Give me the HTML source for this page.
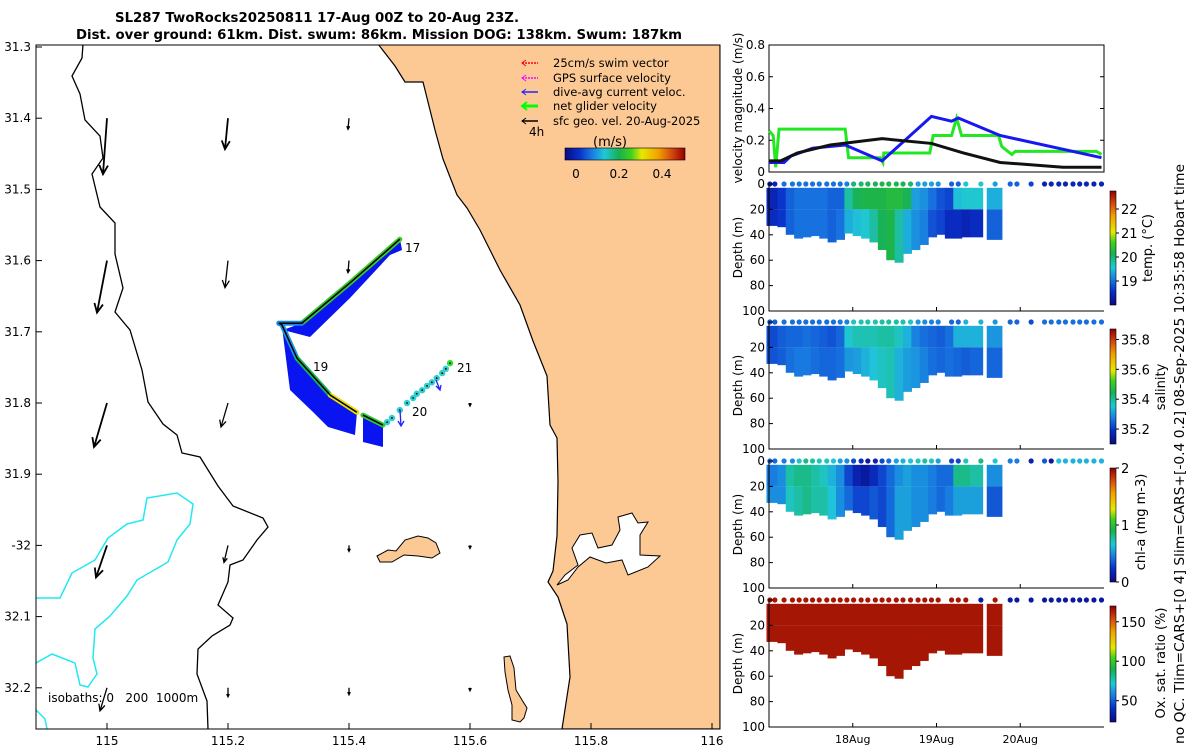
<!DOCTYPE html>
<html><head><meta charset="utf-8"><style>
html,body{margin:0;padding:0;background:#fff;}
svg{display:block;font-family:"DejaVu Sans","Liberation Sans",sans-serif;}
</style></head><body>
<svg id="fig" width="1200" height="750" viewBox="0 0 1200 750" xmlns="http://www.w3.org/2000/svg">
<defs>
<linearGradient id="jetH" x1="0" y1="0" x2="1" y2="0">
<stop offset="0" stop-color="#0a0a80"/><stop offset="0.12" stop-color="#0a30c8"/><stop offset="0.22" stop-color="#1878e0"/><stop offset="0.33" stop-color="#20c8d8"/><stop offset="0.45" stop-color="#18b050"/><stop offset="0.55" stop-color="#40d020"/><stop offset="0.64" stop-color="#e8e800"/><stop offset="0.78" stop-color="#f0a000"/><stop offset="0.9" stop-color="#d04010"/><stop offset="1" stop-color="#900000"/>
</linearGradient>
<linearGradient id="jetV" x1="0" y1="1" x2="0" y2="0">
<stop offset="0" stop-color="#0a0a80"/><stop offset="0.12" stop-color="#0a30c8"/><stop offset="0.22" stop-color="#1878e0"/><stop offset="0.33" stop-color="#20c8d8"/><stop offset="0.45" stop-color="#18b050"/><stop offset="0.55" stop-color="#40d020"/><stop offset="0.64" stop-color="#e8e800"/><stop offset="0.78" stop-color="#f0a000"/><stop offset="0.9" stop-color="#d04010"/><stop offset="1" stop-color="#900000"/>
</linearGradient>
<clipPath id="mapClip"><rect x="36" y="45" width="684" height="684"/></clipPath>
</defs>

<text x="115" y="22" font-size="13" font-weight="bold" textLength="404" lengthAdjust="spacingAndGlyphs">SL287 TwoRocks20250811 17-Aug 00Z to 20-Aug 23Z.</text>
<text x="76" y="39" font-size="13" font-weight="bold" textLength="606" lengthAdjust="spacingAndGlyphs">Dist. over ground: 61km. Dist. swum: 86km. Mission DOG: 138km. Swum: 187km</text>

<g id="map" clip-path="url(#mapClip)">
<polygon fill="#fcc995" stroke="#000" stroke-width="1.2" points="378,44 395,66 405,82 423,82 427,98 435,130 443,159 457,195 467,208 480,230 500,270 520,305 533,341 547,376 550,425 557,438 558,482 557,536 553,571 548,582 558,597 567,624 570,677 562,729 720,729 720,44"/>
<polygon fill="#fff" stroke="#000" stroke-width="1" points="557,585 565,575 578,565 572,548 580,535 592,533 598,548 612,545 620,530 618,517 632,513 638,523 648,522 640,535 640,555 660,556 648,567 628,575 622,560 606,563 590,557 578,567 568,580"/>
<polygon fill="#fcc995" stroke="#000" stroke-width="1" points="377,556 388,550 396,551 405,540 418,536 428,538 436,543 440,553 432,558 418,556 404,555 392,562 380,562"/>
<polygon fill="#fcc995" stroke="#000" stroke-width="1" points="504,657 510,656 514,668 516,690 522,700 527,708 524,718 520,722 512,720 512,705 508,690 505,672"/>
<polyline fill="none" stroke="#000" stroke-width="1.3" points="83,44 82,58 72,76 80,94 85,120 100,136 103,158 92,174 100,207 115,223 115,254 123,288 115,312 130,330 142,370 148,402 163,424 177,435 182,453 200,457 218,486 233,506 263,518 268,527 257,540 243,560 230,565 228,582 218,605 233,618 230,625 212,636 198,649 197,674 207,701 208,729"/>
<polyline fill="none" stroke="#22e8f0" stroke-width="1.5" points="36,598 60,598 72,573 95,560 108,538 127,524 143,520 147,498 177,493 193,504 190,524 177,540 168,562 137,580 127,596 110,616 95,629 93,658 97,674 88,687 80,685 75,663 52,654 36,663"/>
<polyline fill="none" stroke="#22e8f0" stroke-width="1.5" points="36,710 45,719 47,729"/>
<g id="vecs"></g>
<g fill="#0a14f0">
<polygon points="400,239 350,283 302,323 283,330 310,337 350,298 390,255 402,250"/>
<polygon points="282,327 297,358 330,395 357,412 355,435 328,427 313,412 290,390"/>
<polygon points="363,415 383,425 383,447 363,442"/>
</g>
<g id="track"></g>
<text x="405" y="252" font-size="12">17</text>
<text x="313" y="371" font-size="12">19</text>
<text x="412" y="416" font-size="12">20</text>
<text x="457" y="372" font-size="12">21</text>
<text x="48" y="702" font-size="12" style="white-space:pre" xml:space="preserve">isobaths: 0   200  1000m</text>
</g>
<rect x="36" y="45" width="684" height="684" fill="none" stroke="#000" stroke-width="1"/>
<g id="mapTicks" font-size="12"></g>

<g font-size="11.5">
<g><line x1="522" y1="63" x2="538" y2="63" stroke="#f00" stroke-width="1.5" stroke-dasharray="2 1"/><path d="M526,60 L522,63 L526,66" fill="none" stroke="#f00"/><text x="553" y="67">25cm/s swim vector</text></g>
<g><line x1="522" y1="78" x2="538" y2="78" stroke="#f0f" stroke-width="1.5" stroke-dasharray="2 1"/><path d="M526,75 L522,78 L526,81" fill="none" stroke="#f0f"/><text x="553" y="82">GPS surface velocity</text></g>
<g><line x1="522" y1="92" x2="538" y2="92" stroke="#22f" stroke-width="1.5"/><path d="M526,89 L522,92 L526,95" fill="none" stroke="#22f"/><text x="553" y="96">dive-avg current veloc.</text></g>
<g><line x1="522" y1="106" x2="538" y2="106" stroke="#0f0" stroke-width="3"/><path d="M527,102 L522,106 L527,110" fill="none" stroke="#0f0" stroke-width="2"/><text x="553" y="110">net glider velocity</text></g>
<g><line x1="522" y1="121" x2="538" y2="121" stroke="#000" stroke-width="1.5"/><path d="M526,118 L522,121 L526,124" fill="none" stroke="#000"/><text x="553" y="125">sfc geo. vel. 20-Aug-2025</text></g>
<text x="529" y="136" font-size="12">4h</text>
<text x="610" y="146" font-size="13" text-anchor="middle">(m/s)</text>
<rect x="565" y="148" width="120" height="12" fill="url(#jetH)" stroke="#000" stroke-width="0.6"/>
<text x="576" y="178" font-size="12" text-anchor="middle">0</text>
<text x="619" y="178" font-size="12" text-anchor="middle">0.2</text>
<text x="662" y="178" font-size="12" text-anchor="middle">0.4</text>
</g>

<g id="right" font-size="12"></g>

<text transform="translate(1152,248) rotate(-90)" font-size="13" text-anchor="middle">temp. (°C)</text>
<text transform="translate(1165,387) rotate(-90)" font-size="13" text-anchor="middle">salinity</text>
<text transform="translate(1145,522) rotate(-90)" font-size="13" text-anchor="middle">chl-a (mg m-3)</text>
<text transform="translate(1165,663) rotate(-90)" font-size="13" text-anchor="middle">Ox. sat. ratio (%)</text>
<text transform="translate(1184,454) rotate(-90)" font-size="13" text-anchor="middle" textLength="580" lengthAdjust="spacingAndGlyphs">no QC. Tlim=CARS+[0 4] Slim=CARS+[-0.4 0.2] 08-Sep-2025 10:35:58 Hobart time</text>
</svg>
<script>
// ---------- map data ----------
const vecLons = [115, 115, 115, 115, 115, 115.2, 115.2, 115.2, 115.2, 115.2, 115.4, 115.4, 115.4, 115.4, 115.6, 115.6, 115.6];
const vecLats = [31.4, 31.6, 31.8, 32.0, 32.2, 31.4, 31.6, 31.8, 32.0, 32.2, 31.4, 31.6, 32.0, 32.2, 31.8, 32.0, 32.2];
const vecU = [-0.016, -0.04, -0.052, -0.044, -0.028, -0.012, -0.012, -0.028, -0.016, 0, -0.004, -0.004, 0, 0, 0, 0, 0];
const vecV = [-0.224, -0.208, -0.176, -0.128, -0.092, -0.124, -0.108, -0.096, -0.068, -0.036, -0.044, -0.048, -0.024, -0.028, -0.012, -0.012, -0.012];
const trackLons = [115.484, 115.402, 115.322, 115.284, 115.289, 115.314, 115.369, 115.413];
const trackLats = [31.570, 31.631, 31.688, 31.688, 31.690, 31.737, 31.789, 31.813];
const trackSpeed = [0.27, 0.26, 0.12, 0.12, 0.13, 0.22, 0.33, 0.22];
const leg3Lons = [115.423, 115.456];
const leg3Lats = [31.817, 31.831];
const dotLons = [115.463, 115.471, 115.484, 115.496, 115.506, 115.512, 115.521, 115.529, 115.537, 115.545, 115.554, 115.560, 115.567];
const dotLats = [31.827, 31.821, 31.810, 31.800, 31.793, 31.787, 31.782, 31.776, 31.771, 31.765, 31.758, 31.752, 31.744];
const lonTicks = [115, 115.2, 115.4, 115.6, 115.8, 116];
const lonTickLabels = ["115", "115.2", "115.4", "115.6", "115.8", "116"];
const latTicks = [31.3, 31.4, 31.5, 31.6, 31.7, 31.8, 31.9, 32.0, 32.1, 32.2];
const latTickLabels = ["31.3", "31.4", "31.5", "31.6", "31.7", "31.8", "31.9", "-32", "32.1", "32.2"];

// ---------- velocity time series ----------
const greenDays = [0, 0.05, 0.08, 0.12, 0.91, 0.95, 1.33, 1.36, 1.37, 1.92, 1.96, 2.18, 2.24, 2.30, 2.74, 2.78, 2.90, 2.94, 3.91, 3.97];
const greenVals = [0.26, 0.23, 0.03, 0.27, 0.27, 0.09, 0.09, 0.06, 0.12, 0.12, 0.23, 0.23, 0.34, 0.23, 0.23, 0.16, 0.11, 0.13, 0.13, 0.11];
const blueDays = [0, 0.18, 0.26, 0.52, 0.91, 1.35, 1.94, 2.18, 2.26, 2.76, 3.97];
const blueVals = [0.06, 0.06, 0.10, 0.15, 0.17, 0.07, 0.35, 0.32, 0.34, 0.23, 0.09];
const blackDays = [0, 0.14, 0.34, 0.73, 1.35, 1.94, 2.32, 2.76, 3.51, 3.97];
const blackVals = [0.07, 0.07, 0.12, 0.17, 0.21, 0.18, 0.12, 0.06, 0.03, 0.03];
const velTicks = [0, 0.2, 0.4, 0.6, 0.8];
const velTickLabels = ["0", "0.2", "0.4", "0.6", "0.8"];

// ---------- sections ----------
const segBounds = [-0.03, 0.1, 0.2, 0.3, 0.4, 0.5, 0.6, 0.7, 0.8, 0.9, 1.0, 1.1, 1.2, 1.3, 1.4, 1.5, 1.6, 1.7, 1.8, 1.9, 2.0, 2.1, 2.2, 2.3, 2.4, 2.55, 2.6, 2.78];
const segBottom = [33, 34, 40, 43, 42, 41, 43, 46, 44, 39, 41, 43, 46, 52, 60, 62, 55, 52, 48, 42, 40, 43, 43, 42, 42, null, 44];
const tempUpper = [18.4, 18.6, 18.9, 19.0, 19.0, 19.0, 19.0, 18.9, 18.9, 19.8, 20.1, 20.2, 20.2, 20.2, 20.3, 20.3, 20.1, 19.3, 19.2, 19.0, 18.8, 18.7, 19.5, 19.6, 19.6, null, 19.4];
const tempLower = [18.5, 18.6, 18.9, 19.0, 19.0, 19.0, 19.0, 18.9, 19.0, 19.4, 19.5, 19.6, 19.8, 20.1, 20.2, 19.8, 19.4, 19.2, 19.1, 18.8, 18.7, 18.5, 18.5, 18.4, 18.5, null, 18.9];
const salUpper = [35.22, 35.24, 35.25, 35.25, 35.26, 35.25, 35.24, 35.23, 35.25, 35.36, 35.38, 35.38, 35.38, 35.39, 35.39, 35.37, 35.33, 35.28, 35.26, 35.25, 35.24, 35.26, 35.33, 35.33, 35.33, null, 35.30];
const salLower = [35.23, 35.24, 35.26, 35.27, 35.27, 35.26, 35.25, 35.25, 35.26, 35.30, 35.31, 35.33, 35.35, 35.37, 35.38, 35.33, 35.31, 35.30, 35.28, 35.26, 35.25, 35.26, 35.25, 35.24, 35.25, null, 35.25];
const chlUpper = [0.45, 0.5, 0.75, 0.8, 0.8, 0.75, 0.7, 0.6, 0.5, 0.3, 0.15, 0.1, 0.2, 0.3, 0.4, 0.5, 0.55, 0.5, 0.5, 0.45, 0.4, 0.4, 0.8, 0.8, 0.75, null, 0.5];
const chlLower = [0.5, 0.5, 0.7, 0.75, 0.8, 0.75, 0.75, 0.65, 0.5, 0.4, 0.3, 0.3, 0.35, 0.3, 0.4, 0.55, 0.55, 0.5, 0.5, 0.45, 0.4, 0.45, 0.55, 0.55, 0.55, null, 0.35];
const oxyUpper = [165, 165, 165, 165, 165, 165, 165, 165, 165, 165, 165, 165, 165, 165, 165, 165, 165, 165, 165, 165, 165, 165, 165, 165, 165, null, 165];
const oxyLower = [165, 165, 165, 165, 165, 165, 165, 165, 165, 165, 165, 165, 165, 165, 165, 165, 165, 165, 165, 165, 165, 165, 165, 165, 165, null, 165];
const surfDays = [0.01, 0.07, 0.18, 0.28, 0.36, 0.44, 0.52, 0.6, 0.69, 0.77, 0.85, 0.93, 1.01, 1.1, 1.18, 1.27, 1.35, 1.43, 1.52, 1.6, 1.69, 1.78, 1.86, 1.94, 2.02, 2.18, 2.26, 2.35, 2.53, 2.7, 2.88, 2.96, 3.13, 3.29, 3.37, 3.46, 3.54, 3.63, 3.71, 3.79, 3.88, 3.97];
const surfTemp = [18.4, 18.4, 19.0, 19.0, 19.0, 19.0, 19.0, 19.0, 19.0, 19.0, 19.0, 19.1, 20.0, 20.0, 20.1, 20.1, 20.2, 20.2, 20.2, 20.1, 20.0, 19.3, 19.3, 19.3, 19.2, 18.9, 18.9, 19.6, 19.6, 19.3, 18.9, 18.9, 18.7, 18.4, 18.4, 18.4, 18.4, 18.4, 18.4, 18.4, 18.4, 18.4];
const surfSal = [35.23, 35.24, 35.26, 35.26, 35.26, 35.26, 35.26, 35.26, 35.26, 35.26, 35.27, 35.28, 35.37, 35.38, 35.38, 35.38, 35.39, 35.39, 35.39, 35.38, 35.37, 35.30, 35.29, 35.28, 35.28, 35.25, 35.25, 35.33, 35.33, 35.30, 35.25, 35.25, 35.22, 35.26, 35.26, 35.26, 35.26, 35.26, 35.26, 35.26, 35.26, 35.26];
const surfChl = [0.4, 0.4, 0.45, 0.5, 0.7, 0.8, 0.75, 0.7, 0.7, 0.65, 0.55, 0.5, 0.3, 0.2, 0.1, 0.15, 0.3, 0.4, 0.55, 0.6, 0.65, 0.7, 0.75, 0.7, 0.55, 0.3, 0.3, 0.7, 0.8, 0.65, 0.45, 0.45, 0.15, 0.35, 0.1, 0.65, 0.6, 0.6, 0.6, 0.6, 0.6, 0.6];
const surfOxy = [165, 165, 165, 165, 165, 165, 165, 165, 165, 165, 165, 165, 165, 165, 165, 165, 165, 165, 165, 165, 165, 165, 165, 165, 165, 165, 165, 165, 30, 165, 30, 30, 30, 30, 30, 30, 30, 30, 30, 30, 30, 30];
const depthTicks = [0, 20, 40, 60, 80, 100];
const dayTicks = [1, 2, 3];
const dayTickLabels = ["18Aug", "19Aug", "20Aug"];
const tempCbTicks = [19, 20, 21, 22];
const salCbTicks = [35.2, 35.4, 35.6, 35.8];
const chlCbTicks = [0, 1, 2];
const oxyCbTicks = [50, 100, 150];

const NS = "http://www.w3.org/2000/svg";
function mk(tag, attrs, parent) {
  const e = document.createElementNS(NS, tag);
  for (const k in attrs) e.setAttribute(k, attrs[k]);
  if (parent) parent.appendChild(e);
  return e;
}
function clamp(v) { return Math.max(0, Math.min(1, v)); }
const cmapPos = [0, 0.12, 0.22, 0.33, 0.45, 0.55, 0.64, 0.78, 0.9, 1];
const cmapCol = [[10,10,128],[10,48,200],[24,120,224],[32,200,216],[24,176,80],[64,208,32],[232,232,0],[240,160,0],[208,64,16],[144,0,0]];
function jet(t) {
  t = clamp(t);
  let i = 0;
  while (i < cmapPos.length - 2 && t > cmapPos[i + 1]) i++;
  const f = (t - cmapPos[i]) / (cmapPos[i + 1] - cmapPos[i]);
  const c = cmapCol[i].map((v, k) => Math.round(v + (cmapCol[i + 1][k] - v) * f));
  return "rgb(" + c.join(",") + ")";
}
const lonX = lon => 107 + (lon - 115) * 605;
const latY = lat => 47 + (lat - 31.3) * 712;

// map ticks
const mt = document.getElementById("mapTicks");
lonTicks.forEach((lon, i) => {
  const x = lonX(lon);
  const t = mk("line", { x1: x, y1: 729, x2: x, y2: 723, stroke: "#000" }, mt);
  
  
  const l = mk("text", { x: x, y: 745, "text-anchor": "middle" }, mt);
  
  
  l.textContent = lonTickLabels[i];
});
latTicks.forEach((lat, i) => {
  const y = latY(lat);
  const t = mk("line", { x1: 36, y1: y, x2: 42, y2: y, stroke: "#000" }, mt);
  
  
  const l = mk("text", { x: 31, y: y + 4, "text-anchor": "end" }, mt);
  
  
  l.textContent = latTickLabels[i];
});

// vectors
const vg = document.getElementById("vecs");
const vScale = 250;
vecLons.forEach((lon, i) => {
  const x0 = lonX(lon), y0 = latY(vecLats[i]);
  const x1 = x0 + vecU[i] * vScale, y1 = y0 - vecV[i] * vScale;
  const len = Math.hypot(x1 - x0, y1 - y0);
  const ang = Math.atan2(y1 - y0, x1 - x0);
  const h = Math.max(3, Math.min(10, len * 0.3));
  const a = mk("path", {
    d: "M" + x0 + "," + y0 + " L" + x1 + "," + y1 +
      " M" + (x1 - h * Math.cos(ang - 0.45)) + "," + (y1 - h * Math.sin(ang - 0.45)) + " L" + x1 + "," + y1 +
      " L" + (x1 - h * Math.cos(ang + 0.45)) + "," + (y1 - h * Math.sin(ang + 0.45)),
    stroke: "#000", "stroke-width": len > 30 ? 1.8 : 1.3, fill: "none"
  }, vg);
  
  
});

// track
const tg = document.getElementById("track");
for (let i = 0; i < trackLons.length - 1; i++) {
  const s = mk("line", { x1: lonX(trackLons[i]), y1: latY(trackLats[i]), x2: lonX(trackLons[i + 1]), y2: latY(trackLats[i + 1]), stroke: jet(trackSpeed[i] / 0.5), "stroke-width": 5, "stroke-linecap": "round" }, tg);
  
  
}
const l3 = mk("line", { x1: lonX(leg3Lons[0]), y1: latY(leg3Lats[0]), x2: lonX(leg3Lons[1]), y2: latY(leg3Lats[1]), stroke: "#30c830", "stroke-width": 5, "stroke-linecap": "round" }, tg);


const tl = mk("polyline", { points: trackLons.map((l, i) => lonX(l) + "," + latY(trackLats[i])).join(" "), fill: "none", stroke: "#000", "stroke-width": 1.5 }, tg);


const tl3 = mk("polyline", { points: leg3Lons.map((l, i) => lonX(l) + "," + latY(leg3Lats[i])).join(" "), fill: "none", stroke: "#000", "stroke-width": 1.5 }, tg);


dotLons.forEach((lon, i) => {
  const c = mk("circle", { cx: lonX(lon), cy: latY(dotLats[i]), r: 3.2, fill: i === dotLons.length - 1 ? "#30e030" : "#30d0d0" }, tg);
  
  
  const d = mk("circle", { cx: lonX(lon), cy: latY(dotLats[i]), r: 0.9, fill: "#000" }, tg);
  
  
});
const ca = mk("path", { d: "M400,410 L401,426 M398,421 L401,426 L404,421 M436,380 L440,390 M436,386 L440,390 L441,385", stroke: "#22f", "stroke-width": 1.3, fill: "none" }, tg);



// ---------- right panels ----------
const R = document.getElementById("right");
const X0 = 769, X1 = 1104;
const dayX = d => X0 + d * (X1 - X0) / 4;

const vY = v => 172 - v * (172 - 45) / 0.8;
const vbox = mk("rect", { x: X0, y: 45, width: X1 - X0, height: 127, fill: "none", stroke: "#000" }, R);


velTicks.forEach((v, i) => {
  const y = vY(v);
  const t = mk("path", { d: "M" + X0 + "," + y + " h4 M" + X1 + "," + y + " h-4", stroke: "#000" }, R);
  
  
  const l = mk("text", { x: 765, y: y + 4, "text-anchor": "end" }, R);
  
  
  l.textContent = velTickLabels[i];
});
const vl = mk("text", { transform: "translate(742,108) rotate(-90)", "text-anchor": "middle", "font-size": 12 }, R);


vl.textContent = "velocity magnitude (m/s)";
[[greenDays, greenVals, "#22e822", "net-glider-velocity-line"], [blueDays, blueVals, "#1818f0", "dive-avg-current-line"], [blackDays, blackVals, "#111", "sfc-geo-velocity-line"]].forEach(s => {
  const p = mk("polyline", { points: s[0].map((d, i) => dayX(d) + "," + vY(s[1][i])).join(" "), fill: "none", stroke: s[2], "stroke-width": 3 }, R);
  
  
});

function section(name, y0, upper, lower, surf, cmin, cmax, cbTop, cbBot, cbTicks, showX) {
  const dY = d => y0 + d * 1.27;
  const g = mk("g", {}, R);
  
  
  const col = v => jet((v - cmin) / (cmax - cmin));
  for (let i = 0; i < upper.length; i++) {
    if (upper[i] === null) continue;
    const xa = dayX(segBounds[i]), xb = dayX(segBounds[i + 1]);
    const r1 = mk("rect", { x: xa, y: dY(3), width: xb - xa + 0.6, height: dY(20) - dY(3), fill: col(upper[i]) }, g);
    
    
    const r2 = mk("rect", { x: xa, y: dY(20), width: xb - xa + 0.6, height: dY(segBottom[i]) - dY(20), fill: col(lower[i]) }, g);
    
    
  }
  surfDays.forEach((d, i) => {
    const c = mk("circle", { cx: dayX(d), cy: dY(0), r: 2.6, fill: col(surf[i]) }, g);
    
    
  });
  const ax = mk("path", { d: "M" + X0 + "," + (y0 - 1) + " V" + dY(100) + " H" + X1, fill: "none", stroke: "#000" }, g);
  
  
  depthTicks.forEach(d => {
    const y = dY(d);
    const t = mk("line", { x1: X0, y1: y, x2: X0 + 4, y2: y, stroke: "#000" }, g);
    
    
    const l = mk("text", { x: 765, y: y + 4, "text-anchor": "end" }, g);
    
    
    l.textContent = String(d);
  });
  dayTicks.forEach((d, i) => {
    const x = dayX(d);
    const t = mk("line", { x1: x, y1: dY(100), x2: x, y2: dY(100) - 4, stroke: "#000" }, g);
    
    
    if (showX) {
      const l = mk("text", { x: x, y: dY(100) + 16, "text-anchor": "middle", "font-size": 11 }, g);
      
      
      l.textContent = dayTickLabels[i];
    }
  });
  const yl = mk("text", { transform: "translate(742," + dY(50) + ") rotate(-90)", "text-anchor": "middle", "font-size": 12 }, g);
  
  
  yl.textContent = "Depth (m)";
  const cb = mk("rect", { x: 1110, y: cbTop, width: 6, height: cbBot - cbTop, fill: "url(#jetV)", stroke: "#000", "stroke-width": 0.6 }, g);
  
  
  cbTicks.forEach(v => {
    const y = cbBot - (v - cmin) / (cmax - cmin) * (cbBot - cbTop);
    const t = mk("line", { x1: 1116, y1: y, x2: 1119, y2: y, stroke: "#000" }, g);
    
    
    const l = mk("text", { x: 1121, y: y + 5, "font-size": 13 }, g);
    
    
    l.textContent = String(v);
  });
}
section("temperature", 184, tempUpper, tempLower, surfTemp, 18.0, 22.75, 191, 305, tempCbTicks, false);
section("salinity", 322, salUpper, salLower, surfSal, 35.1, 35.87, 329, 444, salCbTicks, false);
section("chlorophyll", 461, chlUpper, chlLower, surfChl, 0, 2, 468, 582, chlCbTicks, false);
section("oxygen", 600, oxyUpper, oxyLower, surfOxy, 23, 170, 606, 722, oxyCbTicks, true);
</script>
</body></html>
